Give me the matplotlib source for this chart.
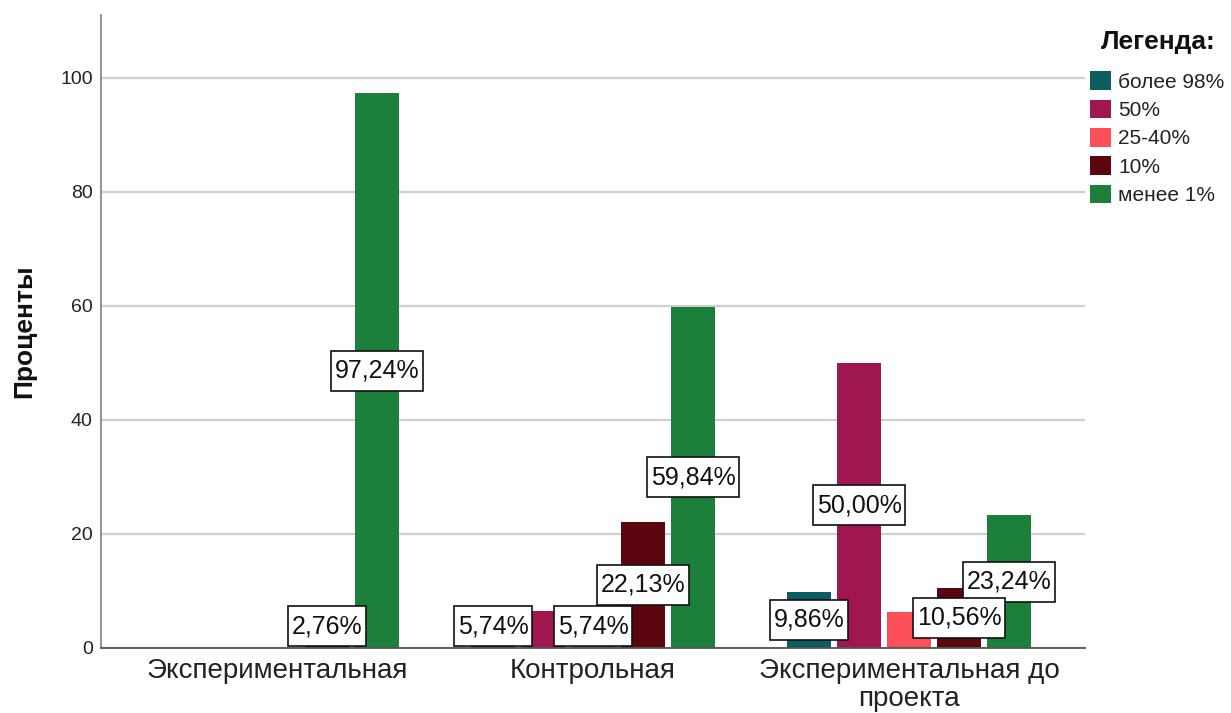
import numpy as np
import matplotlib
matplotlib.use("Agg")
import matplotlib.pyplot as plt
from matplotlib.patches import Patch
from matplotlib.path import Path

plt.rcParams['font.family'] = ['Liberation Sans', 'DejaVu Sans']

# Groups on the x axis
groups = ["Экспериментальная", "Контрольная", "Экспериментальная до\nпроекта"]

# Series (legend entries) and their colours
series = ["более 98%", "50%", "25-40%", "10%", "менее 1%"]
colors = ["#0b5d5f", "#a0174f", "#fc4f59", "#5b050f", "#1c7f3a"]

# Percentages per series, one value per group
more_98 = [0.00, 5.74, 9.86]
half = [0.00, 6.56, 50.00]
range_25_40 = [0.00, 5.74, 6.34]
ten = [2.76, 22.13, 10.56]
less_1 = [97.24, 59.84, 23.24]
values = [more_98, half, range_25_40, ten, less_1]

# Which value labels are printed (overlapping ones are suppressed)
label_shown = [
    [False, True, True],
    [False, False, True],
    [False, True, False],
    [True, True, True],
    [True, True, True],
]


def label_box(x0, y0, width, height, mutation_size):
    """Rectangular label frame: narrow side padding, taller top/bottom."""
    px = 0.14 * mutation_size
    py = 0.32 * mutation_size
    xa, ya = x0 - px, y0 - py
    xb, yb = x0 + width + px, y0 + height + py
    return Path([(xa, ya), (xb, ya), (xb, yb), (xa, yb), (xa, ya)],
                closed=True)


W, H = 1231, 713
fig = plt.figure(figsize=(W / 100, H / 100), dpi=100)
ax = fig.add_axes([101 / W, (H - 648) / H, (1085 - 101) / W, (648 - 15) / H])

x = np.arange(len(groups))
pitch = 0.158
width = 0.139
n = len(series)

for i, (name, vals, col) in enumerate(zip(series, values, colors)):
    pos = x + (i - (n - 1) / 2) * pitch
    v = np.array(vals)
    ax.bar(pos[v > 0], v[v > 0], width=width, color=col, zorder=2,
           linewidth=0)

# Value labels, centred on half the bar height, kept above the baseline
for i, vals in enumerate(values):
    pos = x + (i - (n - 1) / 2) * pitch
    for j, v in enumerate(vals):
        if not label_shown[i][j]:
            continue
        txt = f"{v:.2f}%".replace(".", ",")
        ax.text(pos[j], max(v / 2, 3.8), txt, ha="center", va="center",
                fontsize=18, color="#111111", zorder=10 - i,
                bbox=dict(boxstyle=label_box, fc="white",
                          ec="#111111", lw=1.2))

ax.set_xlim(-0.556, 2.556)
ax.set_ylim(0, 111)
ax.set_yticks([0, 20, 40, 60, 80, 100])
ax.set_xticks(x)
ax.set_xticklabels(groups, fontsize=20, color="#222222", linespacing=1.1)
ax.tick_params(axis="y", length=0, pad=6, labelsize=14, labelcolor="#222222")
ax.tick_params(axis="x", length=0, pad=7)

ax.grid(axis="y", color="#cfcfcf", lw=1.6, zorder=0)
ax.set_axisbelow(True)
for s in ("top", "right"):
    ax.spines[s].set_visible(False)
ax.spines["left"].set_color("#8a8a8a")
ax.spines["left"].set_linewidth(1.3)
ax.spines["bottom"].set_color("#555555")
ax.spines["bottom"].set_linewidth(1.3)

ax.set_ylabel("Проценты", fontsize=19, fontweight="bold", color="#111111")
ax.yaxis.set_label_coords((24 - 101) / (1085 - 101), 0.5)
ax.yaxis.label.set_va("center")

# Legend: bold heading plus colour swatches
fig.text(1158 / W, 1 - 42 / H, "Легенда:", ha="center", va="center",
         fontsize=19, fontweight="bold", color="#111111")
handles = [Patch(facecolor=c, edgecolor="none") for c in colors]
leg = fig.legend(handles, series, loc="upper left",
                 bbox_to_anchor=(1086 / W, 1 - 67 / H),
                 frameon=False, fontsize=15,
                 handlelength=1.0, handleheight=1.0, handletextpad=0.35,
                 labelspacing=0.38, borderpad=0.2, borderaxespad=0)
for t in leg.get_texts():
    t.set_color("#222222")

fig.savefig("out.png", dpi=100, facecolor="white")
